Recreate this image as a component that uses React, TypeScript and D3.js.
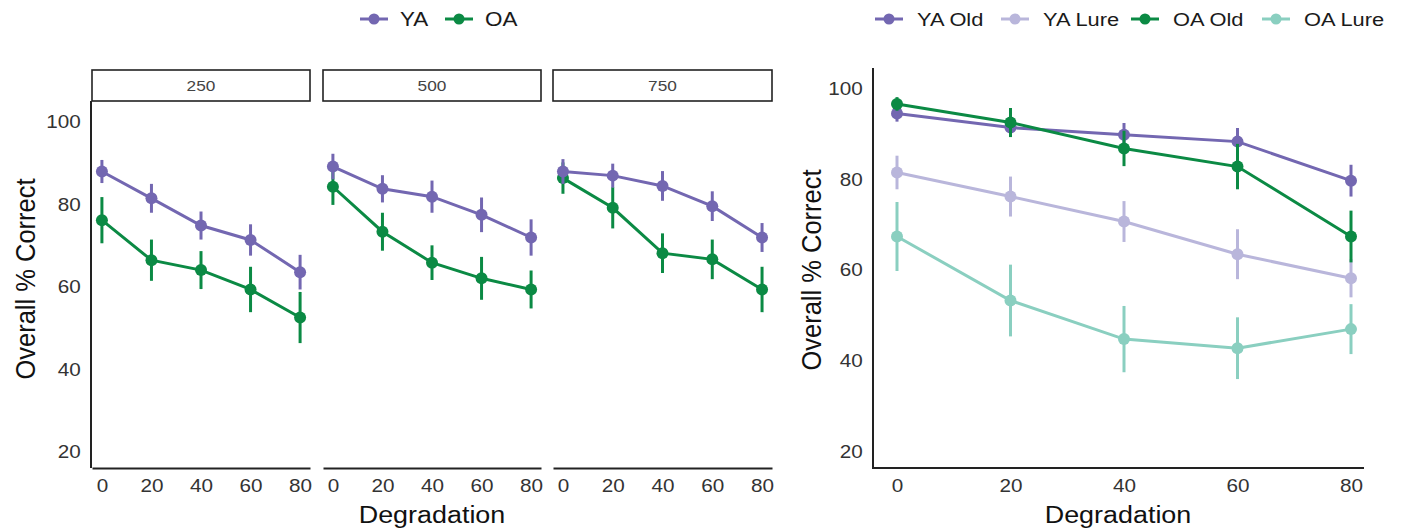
import React, { useRef, useEffect } from 'react';
import * as d3 from 'd3';

const degradation = [0, 20, 40, 60, 80];
const facets = ['250', '500', '750'];
const yTicks = [20, 40, 60, 80, 100];

// left plot: mean and error per facet (250 / 500 / 750)
const yaMeans = [
  [88.0, 81.5, 74.9, 71.4, 63.6],
  [89.2, 83.8, 81.9, 77.5, 72.0],
  [88.0, 87.0, 84.5, 79.6, 72.0],
];
const yaErrs = [
  [2.8, 3.5, 3.4, 3.8, 4.2],
  [3.1, 3.3, 3.9, 4.2, 4.4],
  [3.0, 2.9, 3.6, 3.6, 3.5],
];
const oaMeans = [
  [76.2, 66.5, 64.1, 59.4, 52.6],
  [84.3, 73.4, 65.9, 62.1, 59.4],
  [86.4, 79.2, 68.2, 66.7, 59.4],
];
const oaErrs = [
  [5.6, 5.0, 4.6, 5.5, 6.2],
  [4.4, 4.6, 4.2, 5.2, 4.6],
  [3.8, 5.0, 4.8, 4.8, 5.5],
];

// right plot
const rightSeries = ['YA Old', 'YA Lure', 'OA Old', 'OA Lure'];
const yaOld = [94.5, 91.4, 89.8, 88.3, 79.7];
const yaOldErr = [1.8, 2.0, 2.6, 3.0, 3.5];
const yaLure = [81.5, 76.2, 70.7, 63.5, 58.2];
const yaLureErr = [3.7, 4.4, 4.5, 5.5, 4.2];
const oaOld = [96.6, 92.5, 86.8, 82.8, 67.4];
const oaOldErr = [1.5, 3.2, 3.9, 5.0, 5.7];
const oaLure = [67.4, 53.3, 44.8, 42.8, 47.0];
const oaLureErr = [7.6, 7.9, 7.3, 6.8, 5.5];

const PURPLE = '#7367b1';
const GREEN = '#0b8a44';
const LIGHT_PURPLE = '#b9b6db';
const TEAL = '#8acfc0';
const FONT = 'Liberation Sans, Arial, sans-serif';
const SX = 1.15; // the source image is a bit stretched sideways

function drawSeries(g, x, y, means, errs, color) {
  const pts = means.map((m, i) => ({ x: degradation[i], m, e: errs[i] }));
  g.selectAll(null)
    .data(pts)
    .join('line')
    .attr('x1', d => x(d.x)).attr('x2', d => x(d.x))
    .attr('y1', d => y(d.m - d.e)).attr('y2', d => y(d.m + d.e))
    .attr('stroke', color).attr('stroke-width', 3);
  const line = d3.line().x(d => x(d.x)).y(d => y(d.m));
  g.append('path').datum(pts)
    .attr('d', line).attr('fill', 'none')
    .attr('stroke', color).attr('stroke-width', 3);
  g.selectAll(null)
    .data(pts)
    .join('circle')
    .attr('cx', d => x(d.x)).attr('cy', d => y(d.m))
    .attr('r', 6).attr('fill', color);
}

function label(parent, x, y, txt, size, opts = {}) {
  const rot = opts.rotate ? ' rotate(-90)' : '';
  const sx = opts.sx || SX;
  return parent.append('text')
    .attr('transform', `translate(${x},${y}) scale(${sx},1)${rot}`)
    .attr('dy', '0.36em')
    .attr('text-anchor', opts.anchor || 'middle')
    .attr('font-size', size)
    .attr('fill', opts.fill || '#111')
    .text(txt);
}

function legendItem(g, x0, yc, color, txt, size, gap) {
  g.append('line').attr('x1', x0).attr('x2', x0 + 28).attr('y1', yc).attr('y2', yc)
    .attr('stroke', color).attr('stroke-width', 3);
  g.append('circle').attr('cx', x0 + 14).attr('cy', yc).attr('r', 5.5).attr('fill', color);
  label(g, x0 + gap, yc, txt, size, { anchor: 'start', fill: '#1a1a1a' });
}

function styleTicks(sel) {
  sel.selectAll('text')
    .attr('font-size', 18).attr('fill', '#333').attr('font-family', FONT)
    .attr('transform', `scale(${SX},1)`);
}

function Chart() {
  const svgRef = useRef(null);

  useEffect(() => {
    const svg = d3.select(svgRef.current);
    svg.selectAll('*').remove();
    svg.attr('font-family', FONT);

    // ---- left faceted plot ----
    const yL = d3.scaleLinear().domain([20, 100]).range([452, 122]);
    const panels = [[92, 310], [323, 541], [553, 772]];
    const panelTop = 101, panelBottom = 468;

    panels.forEach(([p0, p1], fi) => {
      const x = d3.scaleLinear().domain([-4, 84]).range([p0, p1]);
      const g = svg.append('g');

      // strip
      g.append('rect').attr('x', p0).attr('y', 70).attr('width', p1 - p0).attr('height', panelTop - 70)
        .attr('fill', 'white').attr('stroke', '#222').attr('stroke-width', 1.6);
      label(g, (p0 + p1) / 2, 86, facets[fi], 15, { fill: '#444' });

      // x axis
      const xAxis = d3.axisBottom(x).tickValues(degradation).tickSize(0).tickPadding(11);
      const ax = g.append('g').attr('transform', `translate(0,${panelBottom})`).call(xAxis);
      ax.select('.domain').attr('stroke', '#222').attr('stroke-width', 2);
      styleTicks(ax);

      if (fi === 0) {
        const yAxis = d3.axisLeft(yL).tickValues(yTicks).tickSize(0).tickPadding(9);
        const ay = g.append('g').attr('transform', `translate(${p0 - 1},0)`).call(yAxis);
        ay.select('.domain').remove();
        g.append('line').attr('x1', p0 - 1).attr('x2', p0 - 1).attr('y1', panelTop).attr('y2', panelBottom)
          .attr('stroke', '#222').attr('stroke-width', 2);
        styleTicks(ay);
      }

      drawSeries(g.append('g'), x, yL, oaMeans[fi], oaErrs[fi], GREEN);
      drawSeries(g.append('g'), x, yL, yaMeans[fi], yaErrs[fi], PURPLE);
    });

    label(svg, 432, 515, 'Degradation', 23, { sx: 1.17 });
    label(svg, 25, 279, 'Overall % Correct', 25.5, { rotate: true, sx: 1.1 });

    const legL = svg.append('g');
    legendItem(legL, 360, 19, PURPLE, 'YA', 19.5, 40);
    legendItem(legL, 445, 19, GREEN, 'OA', 19.5, 40);

    // ---- right plot ----
    const xR = d3.scaleLinear().domain([0, 80]).range([897, 1351]);
    const yR = d3.scaleLinear().domain([20, 100]).range([451.7, 88.5]);
    const gR = svg.append('g');

    const xAxisR = d3.axisBottom(xR).tickValues(degradation).tickSize(0).tickPadding(11);
    const axR = gR.append('g').attr('transform', 'translate(0,468)').call(xAxisR);
    axR.select('.domain').remove();
    styleTicks(axR);
    gR.append('line').attr('x1', 872).attr('x2', 1364).attr('y1', 468).attr('y2', 468)
      .attr('stroke', '#222').attr('stroke-width', 2);

    const yAxisR = d3.axisLeft(yR).tickValues(yTicks).tickSize(0).tickPadding(9);
    const ayR = gR.append('g').attr('transform', 'translate(873,0)').call(yAxisR);
    ayR.select('.domain').remove();
    styleTicks(ayR);
    gR.append('line').attr('x1', 873).attr('x2', 873).attr('y1', 68).attr('y2', 469)
      .attr('stroke', '#222').attr('stroke-width', 2);

    drawSeries(gR.append('g'), xR, yR, yaOld, yaOldErr, PURPLE);
    drawSeries(gR.append('g'), xR, yR, yaLure, yaLureErr, LIGHT_PURPLE);
    drawSeries(gR.append('g'), xR, yR, oaOld, oaOldErr, GREEN);
    drawSeries(gR.append('g'), xR, yR, oaLure, oaLureErr, TEAL);

    label(svg, 1118, 515, 'Degradation', 23, { sx: 1.17 });
    label(svg, 811, 270, 'Overall % Correct', 25.5, { rotate: true, sx: 1.1 });

    const legR = svg.append('g');
    const rColors = [PURPLE, LIGHT_PURPLE, GREEN, TEAL];
    const rX = [875, 1001, 1131, 1262];
    rightSeries.forEach((s, i) => legendItem(legR, rX[i], 19, rColors[i], s, 19, 42));
  }, []);

  return <svg ref={svgRef} width={1402} height={532} style={{ position: 'absolute', left: 0, top: 0, background: 'white' }} />;
}

export default function App() {
  return <Chart />;
}
